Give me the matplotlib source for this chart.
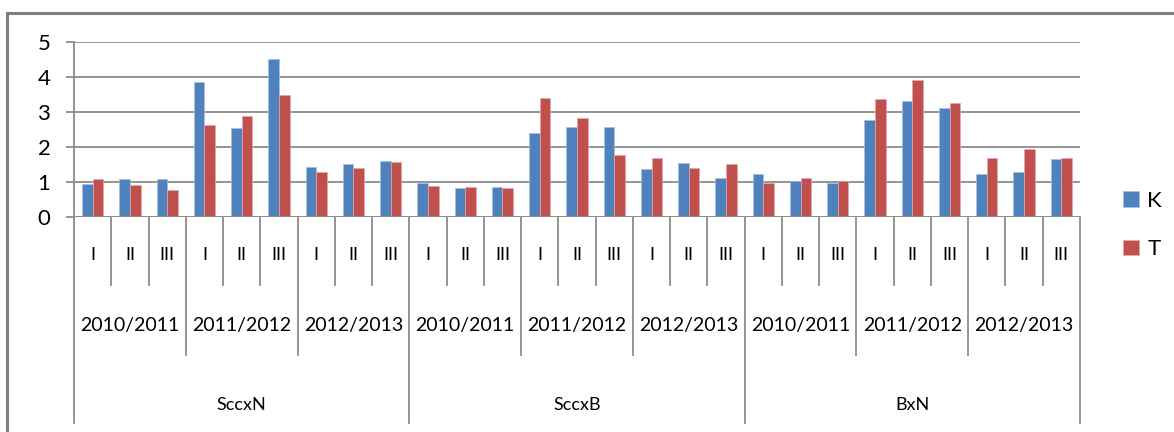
import matplotlib
matplotlib.use("Agg")
import matplotlib.pyplot as plt
from matplotlib.lines import Line2D
import numpy as np

plt.rcParams['font.family'] = ['Lato', 'DejaVu Sans']

# crosses, seasons and cuttings
crosses = ['SccxN', 'SccxB', 'BxN']
seasons = ['2010/2011', '2011/2012', '2012/2013']
cuts = ['I', 'II', 'III']

K = [0.93, 1.07, 1.07, 3.86, 2.54, 4.52, 1.43, 1.51, 1.60,
     0.98, 0.81, 0.84, 2.39, 2.57, 2.57, 1.36, 1.53, 1.11,
     1.21, 1.02, 0.96, 2.77, 3.32, 3.13, 1.23, 1.29, 1.64]
T = [1.08, 0.91, 0.76, 2.63, 2.89, 3.49, 1.28, 1.40, 1.58,
     0.88, 0.86, 0.81, 3.39, 2.82, 1.76, 1.67, 1.39, 1.51,
     0.98, 1.11, 1.01, 3.37, 3.92, 3.26, 1.68, 1.95, 1.68]

W, H = 1174, 432
fig = plt.figure(figsize=(W / 100, H / 100), dpi=100)

# plot area in pixels
x0, x1 = 74, 1080
ytop, ybot = 42.3, 216.7
ax = fig.add_axes([x0 / W, (H - ybot) / H, (x1 - x0) / W, (ybot - ytop) / H])

n = len(K)
x = np.arange(n)
bw = 1 / 3.5
ax.bar(x - bw / 2, K, bw, color='#4F81BD', edgecolor='#A7C0DE', linewidth=0.5, label='K', zorder=3)
ax.bar(x + bw / 2, T, bw, color='#C0504D', edgecolor='#E3A9A7', linewidth=0.5, label='T', zorder=3)

ax.set_xlim(-0.5, n - 0.5)
ax.set_ylim(0, 5)
ax.set_yticks(range(6))
ax.yaxis.grid(True, color='#8c8c8c', linewidth=1.3, zorder=0)
ax.set_xticks([])
for s in ['top', 'right', 'bottom']:
    ax.spines[s].set_visible(False)
ax.spines['left'].set_color('#8c8c8c')
ax.spines['left'].set_linewidth(1.3)
ax.tick_params(axis='y', length=6, width=1.3, color='#8c8c8c', pad=11, labelsize=16)
ax.axhline(0, color='#8c8c8c', linewidth=1.5, zorder=4)


def yfrac(ypix):
    return (ybot - ypix) / (ybot - ytop)


tr = ax.get_xaxis_transform()
lc = '#8c8c8c'
# category boundary lines for the three label rows
for k in range(n + 1):
    xb = k - 0.5
    if k % 9 == 0:
        yend = 423
    elif k % 3 == 0:
        yend = 355
    else:
        yend = 285
    ax.add_line(Line2D([xb, xb], [0, yfrac(yend)], transform=tr, color=lc,
                       linewidth=1.3, clip_on=False))

for k in range(n):
    ax.text(k, yfrac(255), cuts[k % 3], transform=tr, ha='center', va='center',
            fontsize=13, clip_on=False)
for k in range(n // 3):
    ax.text(3 * k + 1, yfrac(326), seasons[k % 3], transform=tr, ha='center',
            va='center', fontsize=14, clip_on=False)
for k, name in enumerate(crosses):
    ax.text(9 * k + 4, yfrac(405), name, transform=tr, ha='center', va='center',
            fontsize=13, clip_on=False)

leg = ax.legend(loc='center left', bbox_to_anchor=(1123 / W, (H - 225) / H),
                bbox_transform=fig.transFigure, frameon=False, fontsize=16,
                handlelength=0.7, handleheight=0.7, handletextpad=0.4,
                labelspacing=1.3, borderpad=0, borderaxespad=0)

# outer frame of the chart area
fc = '#7f7f7f'
fig.add_artist(Line2D([6.5 / W, 6.5 / W], [0, (H - 13) / H], color=fc, linewidth=2.2))
fig.add_artist(Line2D([6.5 / W, 1], [(H - 13) / H, (H - 13) / H], color=fc, linewidth=2.2))

fig.savefig('out.png', dpi=100, facecolor='white')
